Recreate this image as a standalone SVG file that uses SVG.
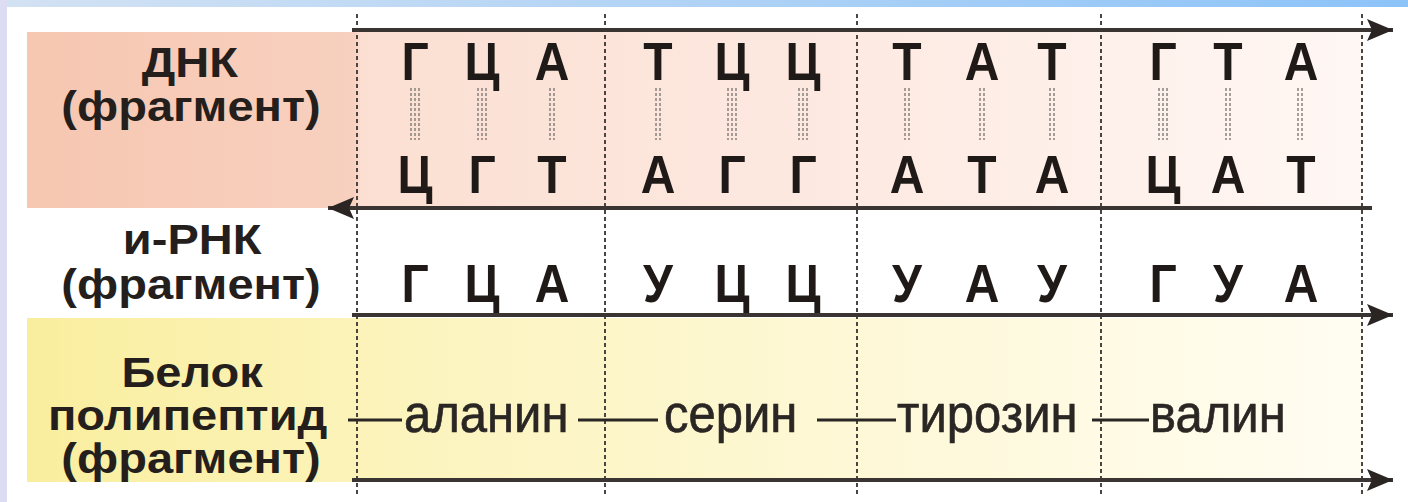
<svg xmlns="http://www.w3.org/2000/svg" width="1408" height="502" viewBox="0 0 1408 502">
  <defs>
    <linearGradient id="topband" x1="0" y1="0" x2="1" y2="0">
      <stop offset="0" stop-color="#d3e2f3"/>
      <stop offset="1" stop-color="#8cc3f8"/>
    </linearGradient>
    <linearGradient id="pink" x1="27" y1="0" x2="1362" y2="0" gradientUnits="userSpaceOnUse">
      <stop offset="0" stop-color="#f6c7b1"/>
      <stop offset="0.245" stop-color="#f8d0bf"/>
      <stop offset="0.25" stop-color="#fbdfd2"/>
      <stop offset="0.6" stop-color="#fde9e1"/>
      <stop offset="1" stop-color="#fff7f4"/>
    </linearGradient>
    <linearGradient id="yellow" x1="27" y1="0" x2="1362" y2="0" gradientUnits="userSpaceOnUse">
      <stop offset="0" stop-color="#f9ee9e"/>
      <stop offset="0.3" stop-color="#fcf4bf"/>
      <stop offset="0.7" stop-color="#fef9dc"/>
      <stop offset="1" stop-color="#fffdf2"/>
    </linearGradient>
    <marker id="ah" markerUnits="userSpaceOnUse" markerWidth="28" markerHeight="24" refX="26" refY="12" orient="auto">
      <path d="M0,1 L26,12 L0,23 L5,12 Z" fill="#2a2522"/>
    </marker>
    <style>
      .lbl { font-family: "Liberation Sans", Arial, sans-serif; font-weight: bold; font-size: 42px; fill: #241f1c; text-anchor: middle; }
      .nt { font-family: "Liberation Sans", Arial, sans-serif; font-weight: bold; font-size: 48px; fill: #1f1a17; text-anchor: middle; }
      .aa { font-family: "Liberation Sans", Arial, sans-serif; font-size: 49px; fill: #2a2624; stroke: #2a2624; stroke-width: 0.6; }
      .strand { stroke: #3a3532; stroke-width: 4; fill: none; }
      .grid { stroke: #4a4541; stroke-width: 2; stroke-dasharray: 4 3; fill: none; }
      .bond { stroke: #7f7a75; stroke-width: 1.4; stroke-dasharray: 3 2; fill: none; }
      .pep { stroke: #2a2624; stroke-width: 3; }
    </style>
  </defs>

  <!-- background -->
  <rect x="0" y="0" width="1408" height="502" fill="#ffffff"/>
  <rect x="0" y="0" width="1408" height="7" fill="url(#topband)"/>
  <rect x="0" y="0" width="7" height="502" fill="#dcdcf3"/>

  <!-- bands -->
  <rect id="dna-band" x="27" y="32" width="1335" height="176" fill="url(#pink)"/>
  <rect id="protein-band" x="27" y="318" width="1335" height="164" fill="url(#yellow)"/>

  <!-- codon separators -->
  <g id="grid">
    <line class="grid" x1="357" y1="14" x2="357" y2="496"/>
    <line class="grid" x1="605" y1="14" x2="605" y2="496"/>
    <line class="grid" x1="857" y1="14" x2="857" y2="496"/>
    <line class="grid" x1="1101" y1="14" x2="1101" y2="496"/>
    <line class="grid" x1="1362" y1="14" x2="1362" y2="496"/>
  </g>

  <!-- labels -->
  <g id="label-dna" transform="translate(191,0) scale(1.12,1)">
    <text class="lbl" x="-1" y="77">ДНК</text>
    <text class="lbl" x="0" y="121">(фрагмент)</text>
  </g>
  <g id="label-mrna" transform="translate(191,0) scale(1.12,1)">
    <text class="lbl" x="1" y="254">и-РНК</text>
    <text class="lbl" x="0" y="299">(фрагмент)</text>
  </g>
  <g id="label-protein" transform="translate(191,0) scale(1.12,1)">
    <text class="lbl" x="1" y="387">Белок</text>
    <text class="lbl" x="-3" y="430">полипептид</text>
    <text class="lbl" x="0" y="473">(фрагмент)</text>
  </g>

  <!-- hydrogen bonds -->
  <g id="bonds">
    <path class="bond" d="M411,88V140M415,88V140M419,88V140"/>
    <path class="bond" d="M478,88V140M482,88V140M486,88V140"/>
    <path class="bond" d="M550,88V140M554,88V140"/>
    <path class="bond" d="M656,88V140M660,88V140"/>
    <path class="bond" d="M728,88V140M732,88V140M736,88V140"/>
    <path class="bond" d="M799,88V140M803,88V140M807,88V140"/>
    <path class="bond" d="M905,88V140M909,88V140"/>
    <path class="bond" d="M980,88V140M984,88V140"/>
    <path class="bond" d="M1050,88V140M1054,88V140"/>
    <path class="bond" d="M1159,88V140M1163,88V140M1167,88V140"/>
    <path class="bond" d="M1226,88V140M1230,88V140"/>
    <path class="bond" d="M1298,88V140M1302,88V140"/>
  </g>

  <!-- DNA coding strand -->
  <g id="dna-top" transform="translate(0,80) scale(1,1.1)">
    <text class="nt" x="415" y="0">Г</text>
    <text class="nt" x="482" y="0">Ц</text>
    <text class="nt" x="552" y="0">А</text>
    <text class="nt" x="658" y="0">Т</text>
    <text class="nt" x="732" y="0">Ц</text>
    <text class="nt" x="803" y="0">Ц</text>
    <text class="nt" x="907" y="0">Т</text>
    <text class="nt" x="982" y="0">А</text>
    <text class="nt" x="1052" y="0">Т</text>
    <text class="nt" x="1163" y="0">Г</text>
    <text class="nt" x="1228" y="0">Т</text>
    <text class="nt" x="1301" y="0">А</text>
  </g>

  <!-- DNA template strand -->
  <g id="dna-bottom" transform="translate(0,193) scale(1,1.1)">
    <text class="nt" x="415" y="0">Ц</text>
    <text class="nt" x="482" y="0">Г</text>
    <text class="nt" x="552" y="0">Т</text>
    <text class="nt" x="658" y="0">А</text>
    <text class="nt" x="732" y="0">Г</text>
    <text class="nt" x="803" y="0">Г</text>
    <text class="nt" x="907" y="0">А</text>
    <text class="nt" x="982" y="0">Т</text>
    <text class="nt" x="1052" y="0">А</text>
    <text class="nt" x="1163" y="0">Ц</text>
    <text class="nt" x="1228" y="0">А</text>
    <text class="nt" x="1301" y="0">Т</text>
  </g>

  <!-- mRNA -->
  <g id="mrna" transform="translate(0,302) scale(1,1.1)">
    <text class="nt" x="415" y="0">Г</text>
    <text class="nt" x="482" y="0">Ц</text>
    <text class="nt" x="552" y="0">А</text>
    <text class="nt" x="658" y="0">У</text>
    <text class="nt" x="732" y="0">Ц</text>
    <text class="nt" x="803" y="0">Ц</text>
    <text class="nt" x="907" y="0">У</text>
    <text class="nt" x="982" y="0">А</text>
    <text class="nt" x="1052" y="0">У</text>
    <text class="nt" x="1163" y="0">Г</text>
    <text class="nt" x="1228" y="0">У</text>
    <text class="nt" x="1301" y="0">А</text>
  </g>

  <!-- amino acids -->
  <g id="protein" transform="translate(0,432) scale(1,1.08)">
    <text class="aa" x="404" y="0">аланин</text>
    <text class="aa" x="664" y="0">серин</text>
    <text class="aa" x="897" y="0">тирозин</text>
    <text class="aa" x="1150" y="0">валин</text>
  </g>

  <!-- connectors -->
  <g id="connectors">
    <line class="strand" x1="352" y1="30" x2="1393" y2="30" marker-end="url(#ah)"/>
    <line class="strand" x1="1372" y1="208" x2="328" y2="208" marker-end="url(#ah)"/>
    <line class="strand" x1="352" y1="315" x2="1393" y2="315" marker-end="url(#ah)"/>
    <line class="strand" x1="352" y1="480" x2="1393" y2="480" marker-end="url(#ah)"/>
    <line class="pep" x1="348" y1="420" x2="402" y2="420"/>
    <line class="pep" x1="578" y1="420" x2="658" y2="420"/>
    <line class="pep" x1="817" y1="420" x2="896" y2="420"/>
    <line class="pep" x1="1092" y1="420" x2="1149" y2="420"/>
  </g>
</svg>
